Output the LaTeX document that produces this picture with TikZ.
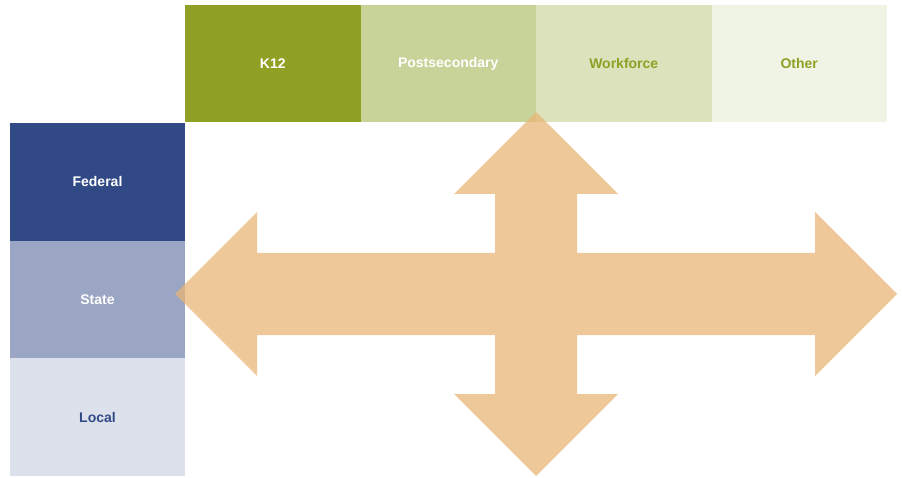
\documentclass[tikz,border=0pt]{standalone}
\usepackage{fontspec}
\setmainfont{Liberation Sans}
\usepackage{tikz}
\usetikzlibrary{positioning}

\definecolor{olive}{HTML}{8FA024}
\definecolor{postcol}{HTML}{C8D39A}
\definecolor{workcol}{HTML}{DCE2BB}
\definecolor{othercol}{HTML}{F0F4E4}
\definecolor{navy}{HTML}{314A85}
\definecolor{statecol}{HTML}{9BA5C4}
\definecolor{localcol}{HTML}{DDE1EC}
\definecolor{arrowcol}{HTML}{E9B677}

\begin{document}
\begin{tikzpicture}[x=1pt,y=-1pt,node distance=0pt,
  topbox/.style={rectangle,inner sep=0pt,outer sep=0pt,minimum width=175.5pt,minimum height=117pt,font=\fontsize{14}{16}\selectfont\bfseries},
  sidebox/.style={rectangle,inner sep=0pt,outer sep=0pt,minimum width=175pt,minimum height=117.7pt,font=\fontsize{14}{16}\selectfont\bfseries},
  bigarrow/.style={fill=arrowcol,fill opacity=0.75,draw=none}]

  \useasboundingbox (0,0) rectangle (902,478);

  % sectors along the top
  \node[topbox,fill=olive,text=white,anchor=north west] (k12) at (185,5) {K12};
  \node[topbox,fill=postcol,text=white] (post) [right=of k12] {Postsecondary};
  \node[topbox,fill=workcol,text=olive] (work) [right=of post] {Workforce};
  \node[topbox,fill=othercol,text=olive] (other) [right=of work] {Other};

  % levels down the side
  \node[sidebox,fill=navy,text=white,anchor=north west] (fed) at (10,123) {Federal};
  \node[sidebox,fill=statecol,text=white] (state) [below=of fed] {State};
  \node[sidebox,fill=localcol,text=navy] (local) [below=of state] {Local};

  % four-way arrow
  \coordinate (hub) at (536,294);
  \fill[bigarrow] (175,294) -- (257,212) -- (257,253) -- (495,253) -- (495,194) -- (454,194)
    -- (536,112) -- (618,194) -- (577,194) -- (577,253) -- (815,253) -- (815,212)
    -- (897,294) -- (815,376) -- (815,335) -- (577,335) -- (577,394) -- (618,394)
    -- (536,476) -- (454,394) -- (495,394) -- (495,335) -- (257,335) -- (257,376) -- cycle;

\end{tikzpicture}
\end{document}
